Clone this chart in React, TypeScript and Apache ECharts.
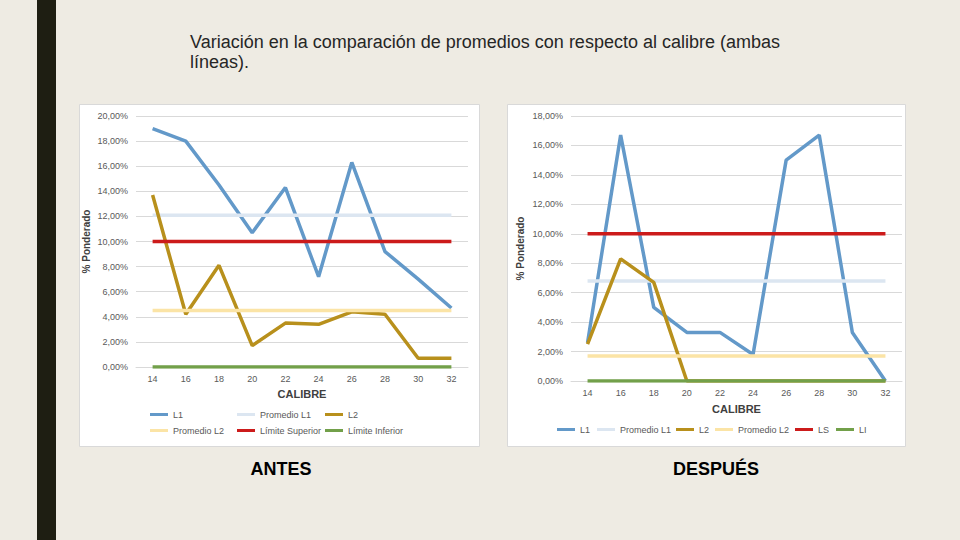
import React, { useEffect, useRef } from "react";
import * as echarts from "echarts";

const categories = ["14", "16", "18", "20", "22", "24", "26", "28", "30", "32"];

// ANTES
const antesL1 = [19.0, 18.0, 14.5, 10.7, 14.3, 7.2, 16.3, 9.2, 7.0, 4.7];
const antesL2 = [13.7, 4.2, 8.1, 1.7, 3.5, 3.4, 4.4, 4.2, 0.7, 0.7];
const antesPromL1 = 12.1;
const antesPromL2 = 4.5;
const antesLS = 10;
const antesLI = 0;
const antesNames = ["L1", "Promedio L1", "L2", "Promedio L2", "Límite Superior", "Límite Inferior"];

// DESPUÉS
const despuesL1 = [2.6, 16.7, 5.0, 3.3, 3.3, 1.8, 15.0, 16.7, 3.3, 0.0];
const despuesL2 = [2.5, 8.3, 6.7, 0.0, 0.0, 0.0, 0.0, 0.0, 0.0, 0.0];
const despuesPromL1 = 6.8;
const despuesPromL2 = 1.7;
const despuesLS = 10;
const despuesLI = 0;
const despuesNames = ["L1", "Promedio L1", "L2", "Promedio L2", "LS", "LI"];

const colors = ["#6399C9", "#DCE6F1", "#B8901C", "#FBE4A6", "#CC1B1B", "#72A04A"];

const FONT = "'Liberation Sans', Arial, sans-serif";
const GREY = "#595959";

const flat = (v: number) => categories.map(() => v);
const fmt = (v: number) => v.toFixed(2).replace(".", ",") + "%";

export default function App() {
  const ref = useRef<HTMLDivElement>(null);
  useEffect(() => {
    if (!ref.current) return;
    const chart = echarts.init(ref.current, null, { renderer: "svg" });

    const mkSeries = (names: string[], data: number[][], idx: number) =>
      names.map((n, i) => ({
        name: n,
        type: "line",
        xAxisIndex: idx,
        yAxisIndex: idx,
        data: data[i],
        symbol: "none",
        color: colors[i],
        lineStyle: { width: 3.5, color: colors[i] },
        z: 2 + i,
      }));

    const antesData = [
      antesL1,
      flat(antesPromL1),
      antesL2,
      flat(antesPromL2),
      flat(antesLS),
      flat(antesLI),
    ];
    const despuesData = [
      despuesL1,
      flat(despuesPromL1),
      despuesL2,
      flat(despuesPromL2),
      flat(despuesLS),
      flat(despuesLI),
    ];

    const legendBase = {
      icon: "rect",
      itemWidth: 18,
      itemHeight: 3,
      textStyle: { fontSize: 9, color: GREY, fontFamily: FONT },
      padding: 0,
    };
    const leftLegPos = [
      [150, 416],
      [237, 416],
      [325, 416],
      [150, 432],
      [237, 432],
      [325, 432],
    ];
    const rightLegPos = [557, 597, 676, 715, 795, 836];

    const legends: any[] = [];
    antesNames.forEach((n, i) => {
      legends.push({ ...legendBase, data: [n], left: leftLegPos[i][0], top: leftLegPos[i][1] - 6 });
    });
    despuesNames.forEach((n, i) => {
      legends.push({ ...legendBase, data: [n], left: rightLegPos[i], top: 431 - 6 });
    });

    const mkX = (idx: number, gap: number) => ({
      type: "category",
      gridIndex: idx,
      data: categories,
      boundaryGap: true,
      axisLine: { show: true, lineStyle: { color: "#D9D9D9" } },
      axisTick: { show: false },
      axisLabel: { fontSize: 9, color: GREY, fontFamily: FONT, margin: 7 },
      name: "CALIBRE",
      nameLocation: "middle",
      nameGap: gap,
      nameTextStyle: { fontSize: 11, fontWeight: "bold", color: "#404040", fontFamily: FONT },
    });
    const mkY = (idx: number, max: number, gap: number) => ({
      type: "value",
      gridIndex: idx,
      min: 0,
      max,
      interval: 2,
      axisLine: { show: false },
      axisTick: { show: false },
      splitLine: { lineStyle: { color: "#D9D9D9" } },
      axisLabel: { fontSize: 9, color: GREY, fontFamily: FONT, margin: 8, formatter: fmt },
      name: "% Ponderado",
      nameLocation: "middle",
      nameGap: gap,
      nameRotate: 90,
      nameTextStyle: { fontSize: 10, fontWeight: "bold", color: "#404040", fontFamily: FONT },
    });

    chart.setOption({
      animation: false,
      backgroundColor: "#EEEBE3",
      graphic: [
        { type: "rect", z: -10, shape: { x: 37, y: 0, width: 19, height: 540 }, style: { fill: "#1E1E12" } },
        { type: "rect", z: -10, shape: { x: 79.5, y: 104.5, width: 400, height: 342 }, style: { fill: "#FFFFFF", stroke: "#D9D9D9", lineWidth: 1 } },
        { type: "rect", z: -10, shape: { x: 507.5, y: 104.5, width: 398, height: 342 }, style: { fill: "#FFFFFF", stroke: "#D9D9D9", lineWidth: 1 } },
        {
          type: "text",
          x: 190,
          y: 32,
          style: {
            text: "Variación en la comparación de promedios con respecto al calibre (ambas\nlíneas).",
            fontSize: 18,
            lineHeight: 20,
            fill: "#262626",
            fontFamily: "'Liberation Sans Narrow', 'Liberation Sans', Arial, sans-serif",
          },
        },
        {
          type: "text",
          x: 281,
          y: 469,
          style: { text: "ANTES", fontSize: 18, fontWeight: "bold", fill: "#000", align: "center", verticalAlign: "middle", fontFamily: FONT },
        },
        {
          type: "text",
          x: 716,
          y: 469,
          style: { text: "DESPUÉS", fontSize: 18, fontWeight: "bold", fill: "#000", align: "center", verticalAlign: "middle", fontFamily: FONT },
        },
      ],
      legend: legends,
      grid: [
        { left: 136, top: 116, width: 332, height: 251, containLabel: false },
        { left: 571, top: 116, width: 331, height: 265, containLabel: false },
      ],
      xAxis: [mkX(0, 21), mkX(1, 22)],
      yAxis: [mkY(0, 20, 45), mkY(1, 18, 46)],
      series: [...mkSeries(antesNames, antesData, 0), ...mkSeries(despuesNames, despuesData, 1)],
    });
    return () => chart.dispose();
  }, []);
  return <div ref={ref} style={{ position: "fixed", left: 0, top: 0, width: 960, height: 540 }} />;
}
